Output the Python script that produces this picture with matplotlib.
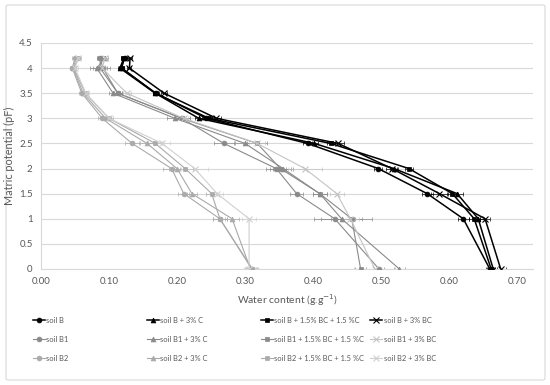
import matplotlib
matplotlib.use("Agg")
import matplotlib.pyplot as plt
from matplotlib.patches import FancyBboxPatch
import numpy as np

plt.rcParams['font.family'] = ['Lato', 'DejaVu Sans']

pF = [0, 1, 1.5, 2, 2.5, 3, 3.5, 4, 4.2]

# soil B group
soilB       = [0.660, 0.621, 0.568, 0.496, 0.392, 0.243, 0.169, 0.118, 0.123]
soilB_C     = [0.665, 0.643, 0.612, 0.519, 0.402, 0.232, 0.168, 0.116, 0.122]
soilB_BCC   = [0.662, 0.637, 0.605, 0.541, 0.426, 0.247, 0.168, 0.119, 0.121]
soilB_BC    = [0.676, 0.653, 0.586, 0.516, 0.437, 0.258, 0.181, 0.130, 0.131]
# soil B1 group
soilB1      = [0.497, 0.432, 0.376, 0.346, 0.269, 0.207, 0.113, 0.087, 0.087]
soilB1_C    = [0.527, 0.442, 0.410, 0.356, 0.300, 0.197, 0.106, 0.082, 0.094]
soilB1_BCC  = [0.470, 0.457, 0.410, 0.352, 0.318, 0.207, 0.113, 0.091, 0.087]
soilB1_BC   = [0.491, 0.455, 0.435, 0.388, 0.318, 0.210, 0.126, 0.090, 0.094]
# soil B2 group
soilB2      = [0.311, 0.263, 0.210, 0.192, 0.134, 0.090, 0.060, 0.046, 0.050]
soilB2_C    = [0.308, 0.281, 0.222, 0.200, 0.156, 0.095, 0.062, 0.047, 0.052]
soilB2_BCC  = [0.310, 0.263, 0.251, 0.212, 0.168, 0.100, 0.065, 0.048, 0.055]
soilB2_BC   = [0.306, 0.306, 0.259, 0.226, 0.178, 0.100, 0.066, 0.050, 0.055]

# horizontal error (standard deviation) estimates
errB   = [0.006, 0.008, 0.008, 0.006, 0.006, 0.005, 0.004, 0.003, 0.003]
errBX  = [0.008, 0.008, 0.012, 0.008, 0.008, 0.006, 0.004, 0.003, 0.003]
errB1  = [0.008, 0.030, 0.010, 0.015, 0.015, 0.012, 0.006, 0.010, 0.005]
errB1X = [0.030, 0.012, 0.010, 0.025, 0.012, 0.006, 0.006, 0.005, 0.004]
errB2  = [0.008, 0.010, 0.008, 0.012, 0.010, 0.006, 0.004, 0.004, 0.004]
errB2X = [0.008, 0.010, 0.008, 0.020, 0.012, 0.006, 0.004, 0.004, 0.004]

labels = [
    'soil B', 'soil B + 3% C', 'soil B + 1.5% BC + 1.5 %C', 'soil B + 3% BC',
    'soil B1', 'soil B1 + 3% C', 'soil B1 + 1.5% BC + 1.5 %C', 'soil B1 + 3% BC',
    'soil B2', 'soil B2 + 3% C', 'soil B2 + 1.5% BC + 1.5 %C', 'soil B2 + 3% BC',
]
series = [soilB, soilB_C, soilB_BCC, soilB_BC,
          soilB1, soilB1_C, soilB1_BCC, soilB1_BC,
          soilB2, soilB2_C, soilB2_BCC, soilB2_BC]
errors = [errB, errB, errB, errBX,
          errB1, errB1, errB1, errB1X,
          errB2, errB2, errB2, errB2X]
colors = ['#000000', '#000000', '#000000', '#000000',
          '#8a8a8a', '#8a8a8a', '#8a8a8a', '#c4c4c4',
          '#aaaaaa', '#aaaaaa', '#aaaaaa', '#d0d0d0']
markers = ['o', '^', 's', 'x'] * 3

fig = plt.figure(figsize=(5.5, 3.85), dpi=100)
border = FancyBboxPatch((6/550, 5/385), 539/550, 375/385,
                        boxstyle='round,pad=0,rounding_size=0.004',
                        transform=fig.transFigure, facecolor='white',
                        edgecolor='#d9d9d9', linewidth=0.8, zorder=-10)
fig.patches.append(border)

ax = fig.add_axes([41/550, (385-269)/385, (533-41)/550, (269-43)/385])
ax.set_facecolor('none')

handles = []
for i, (y, e, c, m, lab) in enumerate(zip(series, errors, colors, markers, labels)):
    ax.errorbar(y, pF, xerr=e, fmt='none', ecolor=c, elinewidth=0.6,
                capsize=1.5, capthick=0.6, alpha=0.8, zorder=2)
    ms = 4.5 if m == 'x' else 3.5
    lw = 1.1 if i < 4 else 0.8
    h, = ax.plot(y, pF, color=c, marker=m, markersize=ms, linewidth=lw,
                 markeredgewidth=0.8 if m == 'x' else 0.5, label=lab,
                 zorder=4 if i < 4 else 3)
    handles.append(h)

ax.set_xlim(0, 0.7235)
ax.set_ylim(0, 4.5)
ax.set_xticks(np.arange(0, 0.71, 0.1))
ax.set_xticklabels([f'{v:.2f}' for v in np.arange(0, 0.71, 0.1)])
yt = np.arange(0, 4.51, 0.5)
ax.set_yticks(yt)
ax.set_yticklabels([f'{v:g}' for v in yt])
ax.tick_params(length=0, labelsize=7, colors='#595959', pad=6)
ax.yaxis.grid(True, color='#d9d9d9', linewidth=0.8)
ax.set_axisbelow(True)
for s in ['top', 'right']:
    ax.spines[s].set_visible(False)
ax.spines['left'].set_color('#d9d9d9')
ax.spines['bottom'].set_color('#d9d9d9')

ax.set_xlabel('Water content (g.g$^{-1}$)', fontsize=7.5, color='#595959', labelpad=4)
ax.set_ylabel('Matric potential (pF)', fontsize=7.8, color='#595959', labelpad=3)

# legend: four columns, each placed at Excel-like positions
col_x = [33, 147, 261, 370]
for ci in range(4):
    hs = [handles[ci], handles[ci + 4], handles[ci + 8]]
    ls = [labels[ci], labels[ci + 4], labels[ci + 8]]
    leg = fig.legend(hs, ls, loc='upper left',
                     bbox_to_anchor=(col_x[ci]/550, 1 - 317/385),
                     frameon=False, fontsize=5.4, handlelength=1.6,
                     handletextpad=0.2, labelspacing=1.6, borderaxespad=0,
                     borderpad=0)
    for t in leg.get_texts():
        t.set_color('#595959')

fig.savefig('out.png', dpi=100)
